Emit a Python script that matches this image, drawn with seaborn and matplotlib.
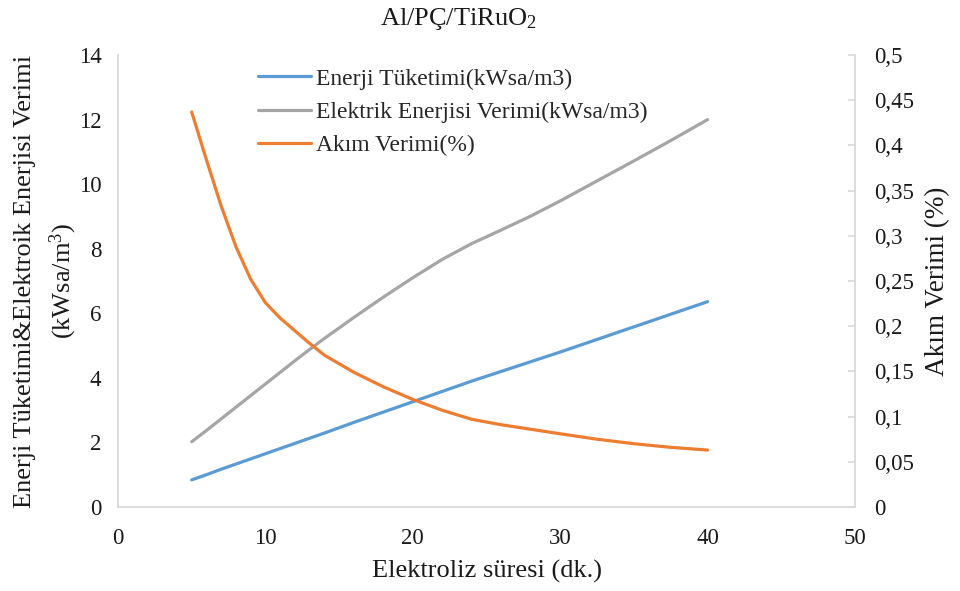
import matplotlib
matplotlib.use("Agg")
import matplotlib.pyplot as plt
import seaborn as sns
import pandas as pd

# ---- data ----
sure = [5, 6, 7, 8, 9, 10, 11, 12, 13, 14, 16, 18, 20, 22, 24, 26, 28, 30, 32.5, 35, 37.5, 40]
enerji_tuketimi = [0.84, 1.00, 1.17, 1.33, 1.49, 1.65, 1.81, 1.97, 2.13, 2.29, 2.62, 2.94,
                   3.26, 3.58, 3.90, 4.20, 4.50, 4.80, 5.19, 5.58, 5.97, 6.36]
elektrik_verimi = [2.02, 2.37, 2.73, 3.09, 3.45, 3.81, 4.17, 4.53, 4.88, 5.22, 5.87, 6.50,
                   7.10, 7.67, 8.16, 8.58, 9.01, 9.48, 10.10, 10.72, 11.35, 12.00]
akim_verimi = [0.437, 0.384, 0.333, 0.288, 0.252, 0.226, 0.209, 0.195, 0.181, 0.168, 0.149, 0.133,
               0.119, 0.107, 0.097, 0.091, 0.086, 0.081, 0.075, 0.070, 0.066, 0.063]

series_names = ["Enerji Tüketimi(kWsa/m3)", "Elektrik Enerjisi Verimi(kWsa/m3)", "Akım Verimi(%)"]
series_colors = ["#5B9BD5", "#A5A5A5", "#ED7D31"]

x_ticks = [0, 10, 20, 30, 40, 50]
y_left_ticks = [0, 2, 4, 6, 8, 10, 12, 14]
y_right_ticks = [0, 0.05, 0.1, 0.15, 0.2, 0.25, 0.3, 0.35, 0.4, 0.45, 0.5]
y_right_labels = ["0", "0,05", "0,1", "0,15", "0,2", "0,25", "0,3", "0,35", "0,4", "0,45", "0,5"]

title_text = "Al/PÇ/TiRuO$_2$"
xlabel_text = "Elektroliz süresi (dk.)"
ylabel_left = "Enerji Tüketimi&Elektroik Enerjisi Verimi\n(kWsa/m$^3$)"
ylabel_right = "Akım Verimi (%)"

df = pd.DataFrame({"sure": sure, "e1": enerji_tuketimi, "e2": elektrik_verimi, "ak": akim_verimi})

sns.set_theme(style="white")
plt.rcParams["font.family"] = ["Liberation Serif", "DejaVu Serif"]
plt.rcParams["mathtext.fontset"] = "custom"
plt.rcParams["mathtext.rm"] = "Liberation Serif"
plt.rcParams["mathtext.it"] = "Liberation Serif:italic"
plt.rcParams["mathtext.bf"] = "Liberation Serif:bold"

txt_c = "#1a1a1a"
fig = plt.figure(figsize=(9.6, 5.91), dpi=100)
ax = fig.add_axes([118 / 960, 1 - 507 / 591, (855 - 118) / 960, (507 - 55) / 591])
ax2 = ax.twinx()

lw = 2.3
sns.lineplot(data=df, x="sure", y="e1", ax=ax, color=series_colors[0], linewidth=lw,
             label=series_names[0], legend=False)
sns.lineplot(data=df, x="sure", y="e2", ax=ax, color=series_colors[1], linewidth=lw,
             label=series_names[1], legend=False)
sns.lineplot(data=df, x="sure", y="ak", ax=ax2, color=series_colors[2], linewidth=lw,
             label=series_names[2], legend=False)
for a in (ax, ax2):
    for ln in a.lines:
        ln.set_solid_capstyle("round")
        ln.set_solid_joinstyle("round")

ax.set_xlim(0, 50)
ax.set_ylim(0, 14)
ax2.set_ylim(0, 0.5)
ax.set_xticks(x_ticks)
ax.set_yticks(y_left_ticks)
ax2.set_yticks(y_right_ticks)
ax2.set_yticklabels(y_right_labels)

spine_c = "#D9D9D9"
for a in (ax, ax2):
    a.spines["top"].set_visible(False)
    for s in ("left", "right", "bottom"):
        a.spines[s].set_color(spine_c)
        a.spines[s].set_linewidth(1.3)
    a.grid(False)
ax.spines["right"].set_visible(False)
ax2.spines["left"].set_visible(False)
ax2.spines["bottom"].set_visible(False)

ax.tick_params(axis="y", length=0, labelsize=16.5, colors=txt_c, pad=12)
ax.tick_params(axis="x", length=0, labelsize=16.5, colors=txt_c, pad=15)
ax2.tick_params(axis="y", direction="in", length=5, width=1.2, color=spine_c,
                labelsize=16.5, labelcolor=txt_c, pad=14)

ax.set_xlabel(xlabel_text, fontsize=19, color=txt_c, labelpad=8)
ax.set_ylabel(ylabel_left, fontsize=19, color=txt_c, labelpad=0, linespacing=1.5)
ax2.set_ylabel(ylabel_right, fontsize=19.5, color=txt_c, labelpad=8, rotation=90)
fig.text(458 / 960, 1 - 25 / 591, title_text, fontsize=19, color=txt_c,
         ha="center", va="baseline")

handles = ax.lines[:2] + ax2.lines[:1]
fig.legend(handles, series_names, loc="upper left", bbox_to_anchor=(258 / 960, 1 - 68 / 591),
           frameon=False, fontsize=17, handlelength=2.25, handletextpad=0.22,
           labelspacing=0.5, borderpad=0, borderaxespad=0)

fig.savefig("out.png", dpi=100)
